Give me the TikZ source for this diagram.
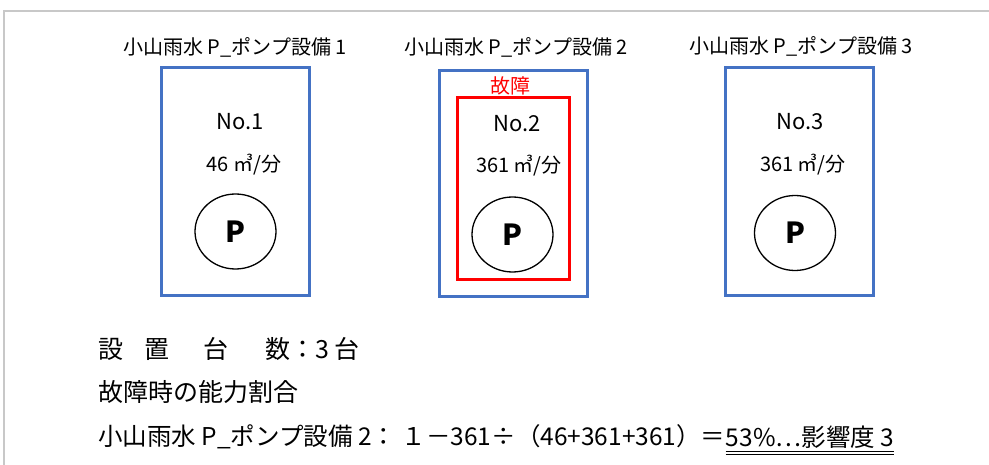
\documentclass[tikz,border=0pt]{standalone}
\usepackage{fontspec}
\usetikzlibrary{shapes.geometric}
\setmainfont{Noto Sans CJK JP}
\definecolor{boxblue}{HTML}{4472C4}
\definecolor{faultred}{HTML}{FF0000}
\definecolor{framegray}{HTML}{C8C8C8}
\begin{document}
\begin{tikzpicture}[x=1pt,y=-1pt,
  title/.style={inner sep=0pt,font=\fontsize{20}{20}\selectfont},
  pumpbox/.style={draw=boxblue,line width=3pt},
  faultbox/.style={draw=faultred,line width=3pt},
  nolabel/.style={inner sep=0pt,font=\fontsize{22}{22}\selectfont},
  flowlabel/.style={inner sep=0pt,font=\fontsize{20}{20}\selectfont},
  pumpcircle/.style={draw=black,line width=1.3pt,ellipse,minimum width=81pt,minimum height=75pt,inner sep=0pt,font=\fontsize{29}{29}\selectfont\bfseries},
  bodytext/.style={inner sep=0pt,anchor=west,font=\fontsize{25}{25}\selectfont},
  formula/.style={inner sep=0pt,anchor=west,font=\fontsize{24.5}{24.5}\selectfont}
]
\useasboundingbox (0,0) rectangle (989,465);
\fill[white] (0,0) rectangle (989,465);
% frame
\coordinate (fa) at (4,465);
\coordinate (fb) at (4,11);
\coordinate (fc) at (989,11);
\draw[framegray,line width=2pt] (fa) -- (fb) -- (fc);

% titles
\node[title] (t1) at (235,47) {小山雨水 P\_ポンプ設備 1};
\node[title] (t2) at (516,47) {小山雨水 P\_ポンプ設備 2};
\node[title] (t3) at (801,46) {小山雨水 P\_ポンプ設備 3};

% boxes
\draw[pumpbox] (161,68) rectangle (309,296);
\draw[pumpbox] (439,71) rectangle (587,297);
\draw[faultbox] (457,98) rectangle (569,280);
\draw[pumpbox] (725,68) rectangle (873,296);

\node[inner sep=0pt,text=faultred,font=\fontsize{20}{20}\selectfont] (fault) at (510,86) {故障};

% contents
\node[nolabel] (n1) at (240,122) {No.1};
\node[flowlabel] (f1) at (244,165) {46 ㎥/分};
\node[pumpcircle] (p1) at (235.5,231.5) {P};

\node[nolabel] (n2) at (517,124) {No.2};
\node[flowlabel] (f2) at (519,166) {361 ㎥/分};
\node[pumpcircle] (p2) at (512.5,234.5) {P};

\node[nolabel] (n3) at (800,122) {No.3};
\node[flowlabel] (f3) at (803,165) {361 ㎥/分};
\node[pumpcircle] (p3) at (795,233) {P};

% bottom text
\node[bodytext] (l1) at (98,349) {設\hspace{21pt}置\hspace{34pt}台\hspace{37pt}数：3 台};
\node[bodytext] (l2) at (98,392) {故障時の能力割合};
\node[formula] (l3a) at (98,437) {小山雨水 P\_ポンプ設備 2： １－361÷（46+361+361）＝};
\node[formula] (l3b) at (l3a.east) {53\%…影響度 3};
\draw[line width=0.8pt] ([yshift=-3pt]l3b.south west) -- ([yshift=-3pt]l3b.south east);
\draw[line width=0.8pt] ([yshift=-6pt]l3b.south west) -- ([yshift=-6pt]l3b.south east);
\end{tikzpicture}
\end{document}
